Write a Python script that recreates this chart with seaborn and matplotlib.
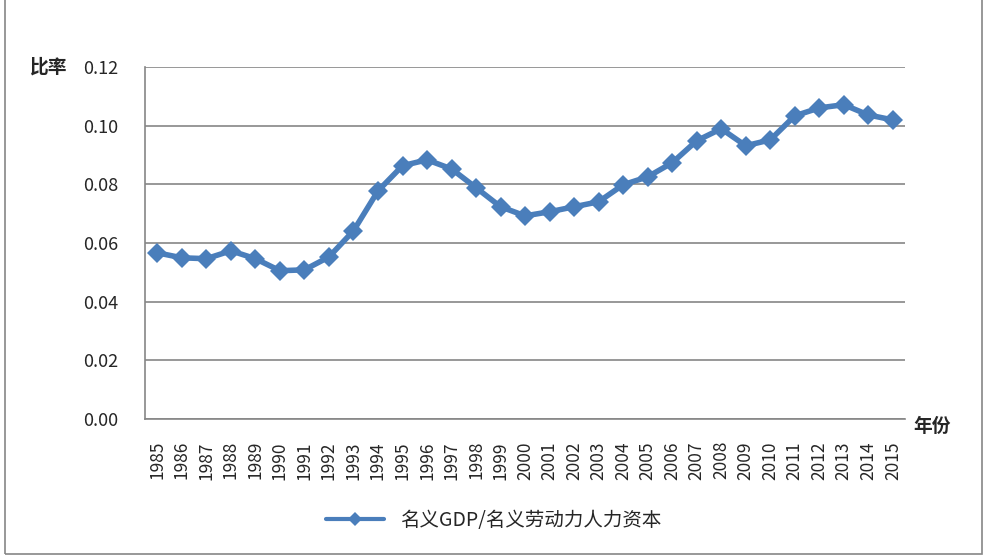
import numpy as np
import pandas as pd
import matplotlib
matplotlib.use('Agg')
import matplotlib.pyplot as plt
import seaborn as sns
from matplotlib.patches import Rectangle

years = list(range(1985, 2016))
ratio = [0.0566, 0.0549, 0.0546, 0.0573, 0.0546, 0.0505, 0.0508, 0.0552, 0.0641, 0.0777,
         0.0863, 0.0883, 0.0852, 0.0788, 0.0723, 0.0692, 0.0706, 0.0723, 0.0740, 0.0798,
         0.0825, 0.0873, 0.0948, 0.0989, 0.0931, 0.0951, 0.1033, 0.1060, 0.1071, 0.1036,
         0.1019]
series_name = '名义GDP/名义劳动力人力资本'
yticks = [0.00, 0.02, 0.04, 0.06, 0.08, 0.10, 0.12]

df = pd.DataFrame({'year': years, 'ratio': ratio})

sns.set_style('white')
plt.rcParams['font.family'] = ['Noto Sans CJK SC', 'DejaVu Sans']

fig = plt.figure(figsize=(9.87, 5.57), dpi=100)
ax = fig.add_axes([0.147, 0.248, 0.770, 0.632])

# outer chart border
fig.patches.append(Rectangle((0.005, 0.006), 0.99, 1.2, transform=fig.transFigure,
                             fill=False, edgecolor='#868686', linewidth=1.2))

sns.lineplot(data=df, x='year', y='ratio', ax=ax, color='#4A7EBB', linewidth=4,
             marker='D', markersize=10, markeredgewidth=0, label=series_name)

ax.set_xlim(years[0] - 0.5, years[-1] + 0.5)
ax.set_ylim(0, 0.12)
ax.set_yticks(yticks)
ax.set_yticklabels([f'{v:.2f}' for v in yticks], fontsize=13)
ax.set_xticks(years)
ax.set_xticklabels([str(y) for y in years], rotation=90, fontsize=12.5)
ax.set_xticks(np.arange(years[0] - 0.5, years[-1] + 1), minor=True)
ax.tick_params(axis='x', which='major', length=0, pad=16)
ax.tick_params(axis='x', which='minor', length=5, color='#868686', direction='out')
ax.tick_params(axis='y', length=5, color='#868686', direction='out', pad=14)
ax.grid(axis='y', color='#868686', linewidth=1.2)
ax.set_axisbelow(True)
for s in ['top', 'right']:
    ax.spines[s].set_visible(False)
for s in ['left', 'bottom']:
    ax.spines[s].set_color('#868686')
    ax.spines[s].set_linewidth(1.2)
ax.set_xlabel('')
ax.set_ylabel('')

fig.text(0.030, 0.880, '比率', fontsize=13.5, fontweight='bold', va='center')
fig.text(0.925, 0.235, '年份', fontsize=13.5, fontweight='bold', va='center')

leg = ax.legend(loc='center', bbox_to_anchor=(0.5, 0.066), bbox_transform=fig.transFigure,
                frameon=False, fontsize=14, handlelength=3)
for h in leg.get_lines():
    h.set_linewidth(3)
    h.set_markersize(7)

fig.savefig('out.png', dpi=100)
